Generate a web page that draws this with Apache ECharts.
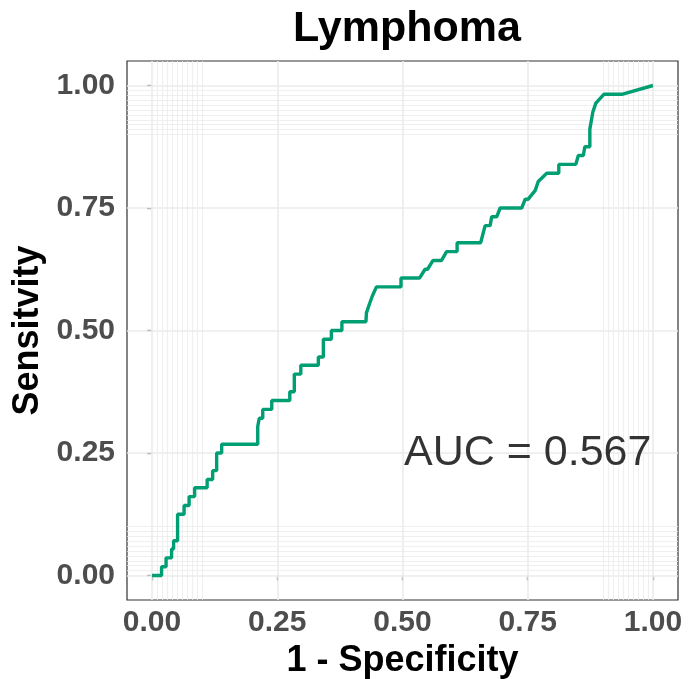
<!DOCTYPE html>
<html>
<head>
<meta charset="utf-8">
<script src="https://cdn.jsdelivr.net/npm/echarts@6/dist/echarts.min.js"></script>
<style>
  html, body { margin: 0; padding: 0; background: #fff; }
  #chart { width: 700px; height: 679px; }
</style>
</head>
<body>
<div id="chart"></div>
<script>
// ROC points (1 - specificity, sensitivity)
var fpr = [0, 0.019, 0.019, 0.028, 0.028, 0.039, 0.039, 0.043, 0.043, 0.051, 0.051,
  0.064, 0.064, 0.074, 0.074, 0.085, 0.085, 0.110, 0.110, 0.121, 0.121, 0.129, 0.129,
  0.139, 0.139, 0.211, 0.211, 0.214, 0.221, 0.221, 0.239, 0.239, 0.275, 0.275, 0.284,
  0.284, 0.297, 0.297, 0.332, 0.332, 0.342, 0.342, 0.358, 0.358, 0.379, 0.379, 0.427,
  0.428, 0.434, 0.440, 0.448, 0.497, 0.497, 0.534, 0.545, 0.550, 0.561, 0.578, 0.588,
  0.609, 0.609, 0.656, 0.665, 0.675, 0.678, 0.688, 0.695, 0.738, 0.745, 0.751, 0.765,
  0.771, 0.788, 0.812, 0.812, 0.846, 0.851, 0.861, 0.864, 0.874, 0.874, 0.880, 0.886,
  0.902, 0.938, 1];
var tpr = [0, 0, 0.018, 0.018, 0.036, 0.036, 0.054, 0.054, 0.071, 0.071, 0.125,
  0.125, 0.143, 0.143, 0.161, 0.161, 0.179, 0.179, 0.196, 0.196, 0.214, 0.214, 0.25,
  0.25, 0.268, 0.268, 0.304, 0.321, 0.321, 0.339, 0.339, 0.357, 0.357, 0.375, 0.375,
  0.411, 0.411, 0.429, 0.429, 0.446, 0.446, 0.482, 0.482, 0.5, 0.5, 0.518, 0.518,
  0.536, 0.554, 0.571, 0.589, 0.589, 0.607, 0.607, 0.625, 0.625, 0.643, 0.643, 0.661,
  0.661, 0.679, 0.679, 0.714, 0.714, 0.732, 0.732, 0.75, 0.75, 0.768, 0.768, 0.786,
  0.804, 0.821, 0.821, 0.839, 0.839, 0.857, 0.857, 0.875, 0.875, 0.911, 0.946, 0.964,
  0.982, 0.982, 1];

var tickValues = [0, 0.25, 0.5, 0.75, 1];
var fineBreaks = [0.01, 0.02, 0.03, 0.04, 0.05, 0.06, 0.07, 0.08, 0.09, 0.1,
  0.9, 0.91, 0.92, 0.93, 0.94, 0.95, 0.96, 0.97, 0.98, 0.99];
var aucText = 'AUC = 0.567';
var aucPos = [0.75, 0.25];

var fontFam = '"Liberation Sans", Arial, Helvetica, sans-serif';
var gridColor = '#ebebeb';

var gridLines = [];
tickValues.forEach(function (v) {
  gridLines.push({ xAxis: v, lineStyle: { width: 1.6 } });
  gridLines.push({ yAxis: v, lineStyle: { width: 1.6 } });
});
fineBreaks.forEach(function (v) {
  gridLines.push({ xAxis: v, lineStyle: { width: 0.8 } });
  gridLines.push({ yAxis: v, lineStyle: { width: 0.8 } });
});

var chart = echarts.init(document.getElementById('chart'), null, { renderer: 'canvas' });

var axisCommon = {
  type: 'value',
  min: -0.05,
  max: 1.05,
  splitLine: { show: false },
  axisLine: { show: false },
  axisTick: {
    show: true, length: 5, customValues: tickValues,
    lineStyle: { color: '#333333', width: 1.2 }
  },
  axisLabel: {
    customValues: tickValues,
    fontFamily: fontFam, fontSize: 30, fontWeight: 'bold', color: '#4d4d4d',
    formatter: function (v) { return v.toFixed(2); }
  },
  nameLocation: 'middle',
  nameTextStyle: { fontFamily: fontFam, fontSize: 36, fontWeight: 'bold', color: '#000' }
};

chart.setOption({
  animation: false,
  title: {
    text: 'Lymphoma',
    left: 402, top: 3, textAlign: 'center',
    textStyle: { fontFamily: fontFam, fontSize: 43, fontWeight: 'bold', color: '#000' }
  },
  grid: {
    left: 127, top: 61, right: 22, bottom: 79,
    containLabel: false, outerBoundsMode: 'none',
    show: true, borderColor: '#333333', borderWidth: 1.2, backgroundColor: '#fff'
  },
  xAxis: Object.assign({}, axisCommon, {
    name: '1 - Specificity', nameGap: 34,
    axisLabel: Object.assign({}, axisCommon.axisLabel, { margin: 8 })
  }),
  yAxis: Object.assign({}, axisCommon, {
    name: 'Sensitvity', nameGap: 67,
    axisLabel: Object.assign({}, axisCommon.axisLabel, { margin: 12 })
  }),
  series: [
    {
      type: 'line', data: [], z: 1, silent: true,
      markLine: {
        z: 1, silent: true, symbol: ['none', 'none'], label: { show: false },
        lineStyle: { color: gridColor, type: 'solid' },
        emphasis: { disabled: true },
        data: gridLines
      }
    },
    {
      type: 'line', z: 3,
      data: fpr.map(function (x, i) { return [x, tpr[i]]; }),
      showSymbol: false, symbol: 'none',
      lineStyle: { color: '#009E73', width: 3.4 },
      itemStyle: { color: '#009E73' }
    },
    {
      type: 'scatter', z: 4, silent: true,
      data: [aucPos], symbolSize: 1, itemStyle: { color: 'rgba(0,0,0,0)' },
      label: {
        show: true, position: 'inside', formatter: aucText,
        fontFamily: fontFam, fontSize: 43, color: '#000'
      }
    }
  ]
});
</script>
</body>
</html>
